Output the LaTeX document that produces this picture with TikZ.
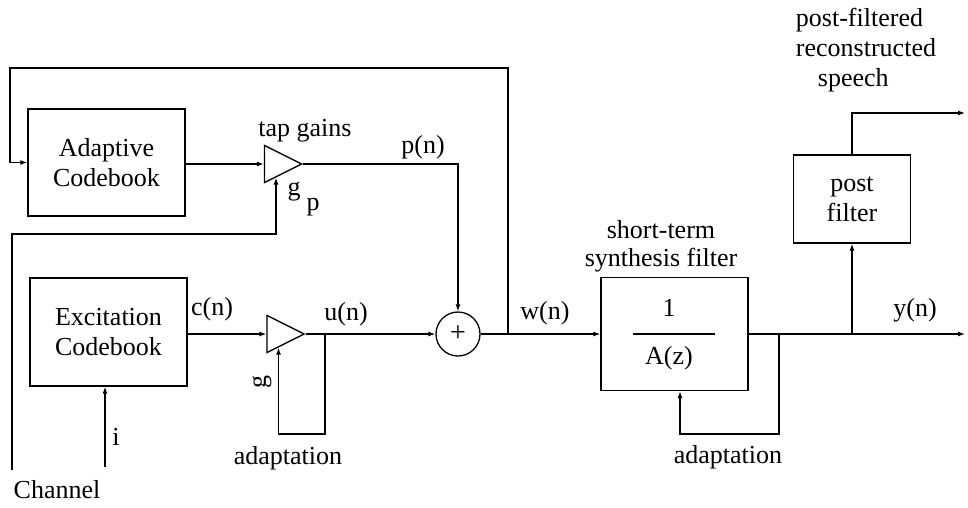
\documentclass[tikz,border=0pt]{standalone}
\usepackage{fontspec}
\setmainfont{Liberation Serif}
\usetikzlibrary{shapes.geometric,arrows.meta}
\begin{document}
\begin{tikzpicture}[x=1pt,y=-1pt,
  every node/.style={font=\fontsize{26}{30}\selectfont},
  blk/.style={draw,line width=1.3pt,inner sep=0pt,align=center},
  amp/.style={draw,line width=1.3pt,isosceles triangle,isosceles triangle stretches,minimum width=37pt,minimum height=37pt,inner sep=0pt},
  wire/.style={line width=1.3pt},
  arr/.style={wire,-{Latex[length=7pt,width=5pt]}},
  lbl/.style={inner sep=0pt}]
\useasboundingbox (0,0) rectangle (968,508);
% blocks
\node[blk,minimum width=157pt,minimum height=107pt] (adapt) at (106.5,162.5) {Adaptive\\Codebook};
\node[blk,minimum width=157pt,minimum height=108pt] (exc) at (108.5,332) {Excitation\\Codebook};
\node[blk,minimum width=147pt,minimum height=113pt] (filt) at (674.5,334) {};
\node[blk,minimum width=117pt,minimum height=88pt] (post) at (852,199) {post\\filter};
\node[amp] (amp1) at (276,164) {};
\node[amp] (amp2) at (278.5,334) {};
\node[draw,circle,line width=1.3pt,minimum size=44pt,inner sep=0pt,font=\fontsize{28}{28}\selectfont] (sum) at (458,334) {+};
% fraction inside filter
\node[lbl] (one) at (669,308) {1};
\node[lbl] (az) at (669,358) {A(z)};
\draw[wire] (633,334) -- (715,334);
% coordinates
\coordinate (wt) at (508,334);
\coordinate (tl) at (10,68);
\coordinate (ch) at (12,470);
\coordinate (chc) at (12,234);
\coordinate (ut) at (325,334);
\coordinate (ub) at (325,434);
\coordinate (iin) at (105,467);
\coordinate (yout) at (965,334);
\coordinate (yt) at (852,334);
\coordinate (sout) at (965,113);
\coordinate (ft) at (779,334);
\coordinate (fa) at (680,434);
% connectors
\draw[arr] (adapt.east |- amp1.west) -- (amp1.west);
\draw[arr] (exc.east |- amp2.west) -- (amp2.west);
\draw[arr] (amp1.apex) -| (sum.north);
\draw[arr] (amp2.apex) -- (sum.west);
\draw[arr] (sum.east) -- (filt.west);
\draw[arr] (wt) |- (tl) |- (adapt.west);
\draw[arr] (ch) -- (chc) -| (amp1.south);
\draw[arr] (ut) -- (ub) -| (amp2.south);
\draw[arr] (iin) -- (iin |- exc.south);
\draw[arr] (filt.east) -- (yout);
\draw[arr] (yt) -- (yt |- post.south);
\draw[arr] (post.north) |- (sout);
\draw[arr] (ft) |- (fa) -- (fa |- filt.south);
% labels
\node[lbl] (tg) at (305,131) {tap gains};
\node[lbl] (pn) at (423,147) {p(n)};
\node[lbl] (gp1) at (294,192) {g};
\node[lbl] (gp2) at (313,207) {p};
\node[lbl] (cn) at (212,309) {c(n)};
\node[lbl] (un) at (346,314) {u(n)};
\node[lbl] (wn) at (545,313) {w(n)};
\node[lbl,rotate=90] (gl) at (262,382) {g};
\node[lbl] (ad1) at (288,458) {adaptation};
\node[lbl] (ad2) at (728,457) {adaptation};
\node[lbl] (il) at (116,437) {i};
\node[lbl] (chl) at (57,490) {Channel};
\node[lbl,align=center,font=\fontsize{26}{28}\selectfont] (stl) at (661,246) {short-term\\synthesis filter};
\node[lbl] (yn) at (915,310) {y(n)};
\node[lbl,align=left] (pfl) at (866,50) {post-filtered\\reconstructed\\\hspace*{22pt}speech};
\end{tikzpicture}
\end{document}
